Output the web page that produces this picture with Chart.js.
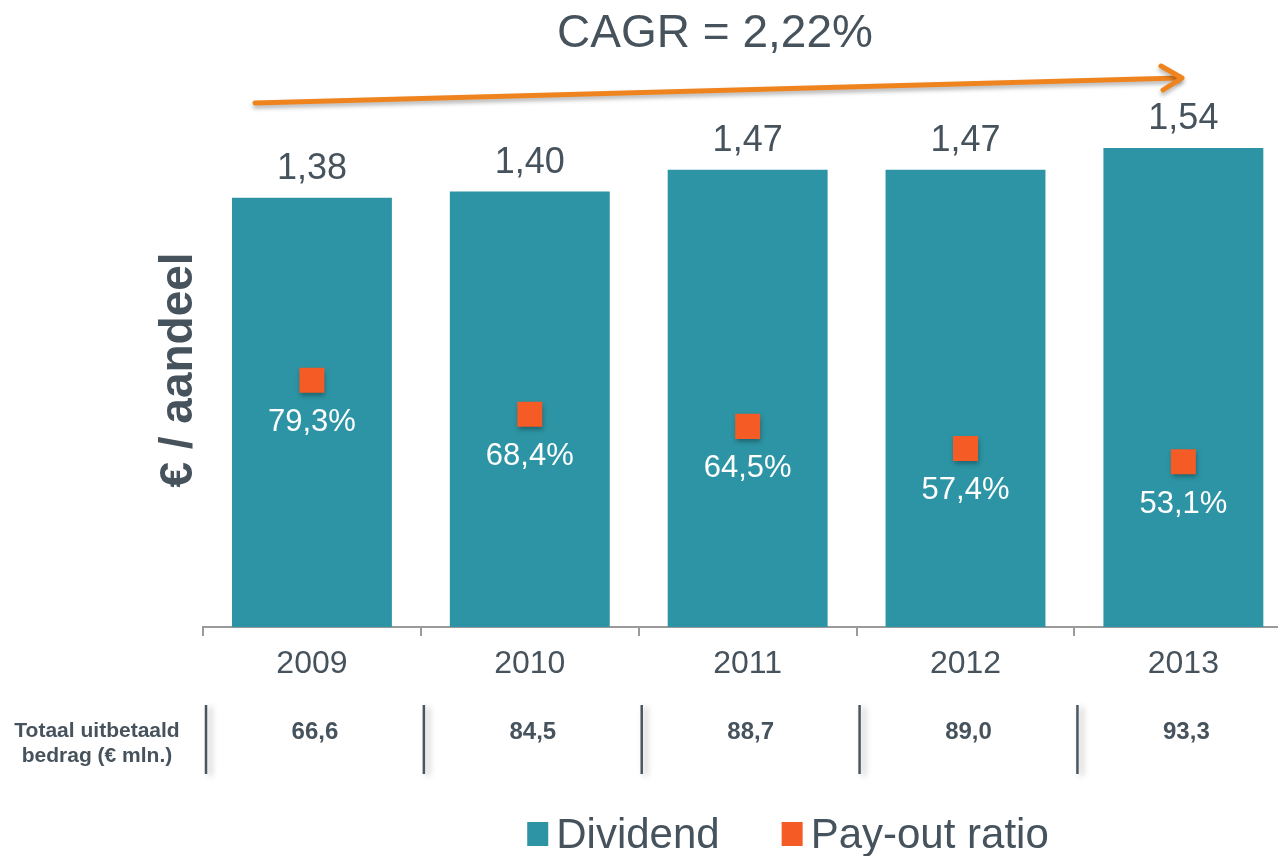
<!DOCTYPE html>
<html>
<head>
<meta charset="utf-8">
<title>Dividend</title>
<script src="https://cdn.jsdelivr.net/npm/chart.js@4.4.1/dist/chart.umd.min.js"></script>
<style>
  html, body { margin: 0; padding: 0; background: #fff; overflow: hidden; }
  #wrap { position: relative; width: 1310px; height: 856px; }
</style>
</head>
<body>
<div id="wrap"><canvas id="chart" width="1310" height="856"></canvas></div>
<script>
// ---- data ----
const years = ['2009', '2010', '2011', '2012', '2013'];
const dividend = [1.38, 1.40, 1.47, 1.47, 1.54];        // € per aandeel
const payoutRatio = [79.3, 68.4, 64.5, 57.4, 53.1];     // %
const totalPaid = [66.6, 84.5, 88.7, 89.0, 93.3];       // € mln.
const seriesNames = ['Dividend', 'Pay-out ratio'];
const titleText = 'CAGR = 2,22%';
const yTitle = '€ / aandeel';
const rowLabel = ['Totaal uitbetaald', 'bedrag (€ mln.)'];

// ---- style ----
const FONT = "'Liberation Sans', Arial, sans-serif";
const TEXT = '#46535d';
const TEAL = '#2c94a4';
const ORANGE = '#f45b25';
const ARROW = '#ef841f';
const comma = (v, d) => v.toFixed(d).replace('.', ',');

// everything that isn't a bar or a point: labels, arrow, table row, legend
const overlay = {
  id: 'overlay',
  beforeDatasetDraw(chart, args) {
    if (args.index !== 1) return;
    const c = chart.ctx;
    c.save();
    c.shadowColor = 'rgba(0,0,0,0.35)'; c.shadowBlur = 5; c.shadowOffsetX = 1; c.shadowOffsetY = 3;
  },
  afterDatasetDraw(chart, args) { if (args.index === 1) chart.ctx.restore(); },
  afterDraw(chart) {
    const ctx = chart.ctx, x = chart.scales.x;
    ctx.save();

    // title
    ctx.fillStyle = TEXT; ctx.textAlign = 'center'; ctx.textBaseline = 'alphabetic';
    ctx.font = `46px ${FONT}`;
    ctx.fillText(titleText, 715, 47);

    // CAGR arrow
    ctx.save();
    ctx.strokeStyle = ARROW; ctx.lineWidth = 5; ctx.lineCap = 'round'; ctx.lineJoin = 'round';
    ctx.shadowColor = 'rgba(0,0,0,0.3)'; ctx.shadowBlur = 4; ctx.shadowOffsetY = 3;
    ctx.beginPath(); ctx.moveTo(255, 103); ctx.lineTo(1179, 78); ctx.stroke();
    ctx.beginPath(); ctx.moveTo(1161, 66); ctx.lineTo(1182, 78); ctx.lineTo(1163, 90); ctx.stroke();
    ctx.restore();

    // dividend labels above bars
    ctx.font = `36px ${FONT}`; ctx.fillStyle = TEXT;
    chart.getDatasetMeta(0).data.forEach((b, i) => ctx.fillText(comma(dividend[i], 2), b.x, b.y - 19));

    // pay-out labels under the squares
    ctx.font = `31px ${FONT}`; ctx.fillStyle = '#fff';
    chart.getDatasetMeta(1).data.forEach((p, i) => ctx.fillText(comma(payoutRatio[i], 1) + '%', p.x, p.y + 51));

    // y title
    ctx.save();
    ctx.translate(192, 370); ctx.rotate(-Math.PI / 2);
    ctx.font = `bold 46px ${FONT}`; ctx.fillStyle = TEXT;
    ctx.fillText(yTitle, 0, 0);
    ctx.restore();

    // table row
    const half = (x.getPixelForValue(1) - x.getPixelForValue(0)) / 2;
    ctx.font = `bold 21px ${FONT}`; ctx.fillStyle = TEXT;
    ctx.fillText(rowLabel[0], 97, 737);
    ctx.fillText(rowLabel[1], 97, 762);
    years.forEach((_, i) => {
      const cx = x.getPixelForValue(i);
      ctx.save();
      ctx.strokeStyle = '#4a565f'; ctx.lineWidth = 2.5;
      ctx.shadowColor = 'rgba(0,0,0,0.3)'; ctx.shadowBlur = 6; ctx.shadowOffsetX = 4; ctx.shadowOffsetY = 2;
      ctx.beginPath(); ctx.moveTo(cx - half + 3, 705); ctx.lineTo(cx - half + 3, 774); ctx.stroke();
      ctx.restore();
      ctx.font = `bold 24px ${FONT}`; ctx.fillStyle = TEXT; ctx.textBaseline = 'middle';
      ctx.fillText(comma(totalPaid[i], 1), cx + 3, 732);
      ctx.textBaseline = 'alphabetic';
    });

    // legend
    ctx.font = `42px ${FONT}`; ctx.textAlign = 'left';
    const ds = chart.data.datasets;
    const box = 21, gapText = 8, gapItem = 62;
    const widths = ds.map(d => box + gapText + ctx.measureText(d.label).width);
    let lx = 788 - (widths[0] + widths[1] + gapItem) / 2;
    ds.forEach((d, i) => {
      ctx.fillStyle = d.backgroundColor;
      ctx.fillRect(lx, 822, box, 24);
      ctx.fillStyle = TEXT;
      ctx.fillText(d.label, lx + box + gapText, 848);
      lx += widths[i] + gapItem;
    });

    ctx.restore();
  }
};

new Chart(document.getElementById('chart'), {
  data: {
    labels: years,
    datasets: [
      { type: 'bar', label: seriesNames[0], data: dividend, yAxisID: 'y', order: 1,
        backgroundColor: TEAL, barPercentage: 0.734, categoryPercentage: 1 },
      { type: 'line', label: seriesNames[1], data: payoutRatio, yAxisID: 'y2', order: 0,
        showLine: false, pointStyle: 'rect', pointRadius: 17.7, pointHoverRadius: 17.7,
        pointBorderWidth: 0, pointBackgroundColor: ORANGE, backgroundColor: ORANGE, borderColor: ORANGE }
    ]
  },
  options: {
    responsive: false,
    animation: false,
    layout: { padding: { left: 203, right: 7, top: 120, bottom: 169 } },
    plugins: { legend: { display: false }, tooltip: { enabled: false } },
    scales: {
      x: {
        border: { color: '#9a9a9a', width: 2 },
        grid: { drawOnChartArea: false, tickLength: 9, color: '#9a9a9a', lineWidth: 2 },
        ticks: { color: TEXT, font: { family: FONT, size: 32 }, padding: 9 },
        afterFit: s => { s.height = 60; }
      },
      y: { display: false, min: 0, max: 1.63 },
      y2: { display: false, min: 0, max: 163 }
    }
  },
  plugins: [overlay]
});
</script>
</body>
</html>
